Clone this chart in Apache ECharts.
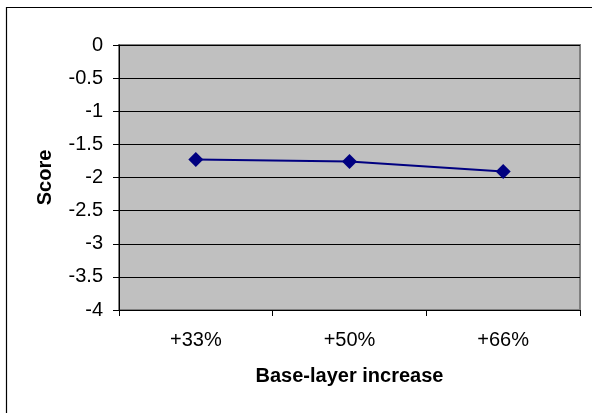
<!DOCTYPE html>
<html>
<head>
<meta charset="utf-8">
<style>
  html, body { margin: 0; padding: 0; background: #ffffff; }
  #chart { width: 592px; height: 413px; }
</style>
<script src="https://cdn.jsdelivr.net/npm/echarts@6/dist/echarts.min.js"></script>
</head>
<body>
<div id="chart"></div>
<script>
// Score by base-layer increase
const categories = ['+33%', '+50%', '+66%'];
const scores = [-1.73, -1.76, -1.91];
const yTicks = { min: -4, max: 0, interval: 0.5 };

const FONT = '"Liberation Sans", Arial, sans-serif';
const chart = echarts.init(document.getElementById('chart'), null, { renderer: 'canvas' });

chart.setOption({
  animation: false,
  backgroundColor: '#ffffff',
  graphic: [{
    type: 'rect',
    shape: { x: 6.5, y: 7.5, width: 640, height: 460 },
    style: { fill: 'none', stroke: '#000000', lineWidth: 1.2 },
    silent: true,
    z: 0
  }],
  grid: {
    left: 119, right: 12, top: 45, bottom: 103,
    show: true,
    backgroundColor: '#c0c0c0',
    borderColor: '#808080',
    borderWidth: 2
  },
  xAxis: {
    type: 'category',
    data: categories,
    boundaryGap: true,
    name: 'Base-layer increase',
    nameLocation: 'middle',
    nameGap: 56,
    nameTextStyle: { fontFamily: FONT, fontSize: 20, fontWeight: 'bold', color: '#000' },
    axisLine: { show: true, onZero: false, lineStyle: { color: '#000', width: 1 } },
    axisTick: { show: true, alignWithLabel: false, length: 6, lineStyle: { color: '#000' } },
    axisLabel: { fontFamily: FONT, fontSize: 20, color: '#000', margin: 20 },
    splitLine: { show: false }
  },
  yAxis: {
    type: 'value',
    min: yTicks.min,
    max: yTicks.max,
    interval: yTicks.interval,
    name: 'Score',
    nameLocation: 'middle',
    nameGap: 64,
    nameRotate: 90,
    nameTextStyle: { fontFamily: FONT, fontSize: 20, fontWeight: 'bold', color: '#000' },
    axisLine: { show: true, lineStyle: { color: '#000', width: 1 } },
    axisTick: { show: true, inside: false, length: 6, lineStyle: { color: '#000' } },
    axisLabel: { fontFamily: FONT, fontSize: 20, color: '#000', margin: 16 },
    splitLine: { show: true, lineStyle: { color: '#000', width: 1 } }
  },
  series: [{
    type: 'line',
    data: scores,
    symbol: 'diamond',
    symbolSize: 15,
    lineStyle: { color: '#000080', width: 2 },
    itemStyle: { color: '#000080' },
    z: 5
  }]
});
</script>
</body>
</html>
